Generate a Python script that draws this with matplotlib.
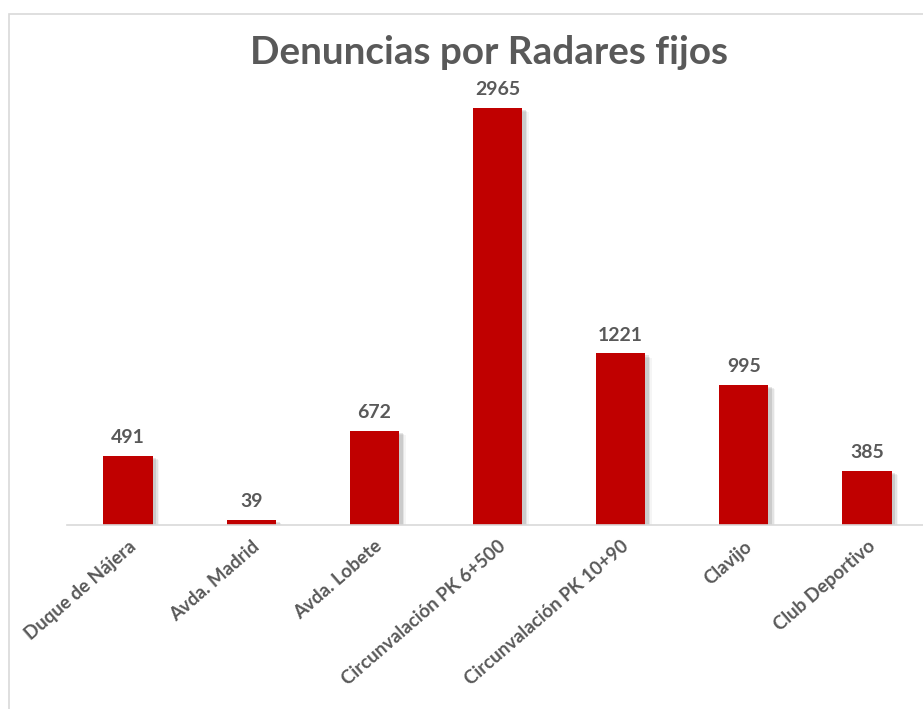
import matplotlib.pyplot as plt
from matplotlib.patches import Rectangle

# Denuncias por radar fijo
radares = ["Duque de Nájera", "Avda. Madrid", "Avda. Lobete",
           "Circunvalación PK 6+500", "Circunvalación PK 10+90",
           "Clavijo", "Club Deportivo"]
denuncias = [491, 39, 672, 2965, 1221, 995, 385]

BAR_RED = "#C00000"
TEXT_GREY = "#595959"

plt.rcParams["font.family"] = ["Lato", "DejaVu Sans"]

fig = plt.figure(figsize=(9.23, 7.09), dpi=100)

# light chart border (the right and bottom edges fall outside the picture)
fig.patches.append(Rectangle((9 / 923, -0.1), 1.2, 1 - 14 / 709 + 0.1,
                             transform=fig.transFigure, fill=False,
                             edgecolor="#D9D9D9", linewidth=1.2))

ax = fig.add_axes([66.5 / 923, 184 / 709, 862 / 923, 450 / 709])
x = range(len(radares))

# soft shadow behind the bars
for k, a in enumerate([0.10, 0.07, 0.04]):
    ax.bar([i + 0.03 + 0.012 * k for i in x], denuncias, width=0.4,
           bottom=-15 - 8 * k, color="black", alpha=a, zorder=1)
bars = ax.bar(x, denuncias, width=0.4, color=BAR_RED, zorder=2)

for rect, v in zip(bars, denuncias):
    ax.annotate(str(v), (rect.get_x() + rect.get_width() / 2, v),
                xytext=(0, 7), textcoords="offset points",
                ha="center", va="bottom", fontsize=14,
                fontweight="bold", color=TEXT_GREY)

ax.set_xlim(-0.5, len(radares) - 0.5)
ax.set_ylim(0, 3200)
ax.set_yticks([])
for s in ["top", "right", "left"]:
    ax.spines[s].set_visible(False)
ax.spines["bottom"].set_color("#D9D9D9")
ax.spines["bottom"].set_linewidth(1.2)

ax.set_xticks(list(x))
ax.set_xticklabels(radares, rotation=41, ha="right", rotation_mode="anchor",
                   fontsize=13.5, fontweight="bold", color=TEXT_GREY)
ax.tick_params(axis="x", length=0, pad=9)
ax.patch.set_alpha(0)

fig.text(489 / 923, 1 - 52 / 709, "Denuncias por Radares fijos",
         ha="center", va="center", fontsize=27.8, fontweight="bold",
         color=TEXT_GREY)

fig.savefig("out.png", dpi=100)
